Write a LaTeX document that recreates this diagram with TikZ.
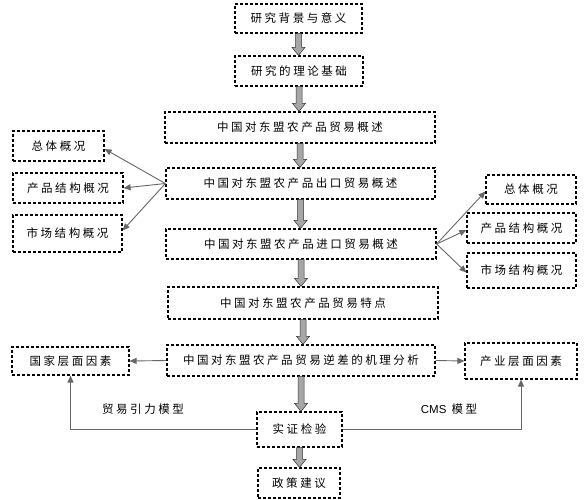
\documentclass[tikz,border=0pt]{standalone}
\usepackage{fontspec}
\setmainfont{Noto Sans CJK SC}[LetterSpace=22]
\newfontfamily\plainlat{Liberation Sans}
\usetikzlibrary{arrows.meta,calc}
\tikzset{
  box/.style={draw=black, dash pattern=on 3pt off 2pt, line width=1.2pt, inner sep=0pt,
    font=\fontsize{11.5}{13}\selectfont, align=center},
  conn/.style={draw=black!60, line width=0.9pt, -{Triangle[length=7pt,width=6pt]}},
  blk/.style={fill=black!35, draw=black!80, line width=0.5pt},
  lbl/.style={font=\fontsize{11.5}{13}\selectfont, inner sep=0pt}
}
\newcommand{\blkarrow}[2]{%
  \filldraw[blk] let \p1=(#1.south), \p2=(#2.north) in
    (\x1-3pt,\y1) -- (\x1+3pt,\y1) -- (\x1+3pt,\y2+8pt) -- (\x1+6.5pt,\y2+8pt)
    -- (\x1,\y2) -- (\x1-6.5pt,\y2+8pt) -- (\x1-3pt,\y2+8pt) -- cycle;}
\begin{document}
\begin{tikzpicture}[x=1pt,y=-1pt]
\useasboundingbox (0,0) rectangle (586,499);
% main column
\node[box, minimum width=127pt, minimum height=29pt] (b1) at (298.5,18.5) {研究背景与意义};
\node[box, minimum width=128pt, minimum height=30pt] (b2) at (299,71) {研究的理论基础};
\node[box, minimum width=270pt, minimum height=31pt] (b3) at (300,127.5) {中国对东盟农产品贸易概述};
\node[box, minimum width=269pt, minimum height=31pt] (b4) at (300.5,183.5) {中国对东盟农产品出口贸易概述};
\node[box, minimum width=270pt, minimum height=30pt] (b5) at (301,244) {中国对东盟农产品进口贸易概述};
\node[box, minimum width=270pt, minimum height=32pt] (b6) at (303,303) {中国对东盟农产品贸易特点};
\node[box, minimum width=268pt, minimum height=31pt] (b7) at (301,360.5) {中国对东盟农产品贸易逆差的机理分析};
\node[box, minimum width=85pt, minimum height=35pt] (b8) at (299.5,429.5) {实证检验};
\node[box, minimum width=82pt, minimum height=30pt] (b9) at (299,483) {政策建议};
% left group
\node[box, minimum width=91pt, minimum height=30pt] (l1) at (58.5,146) {总体概况};
\node[box, minimum width=110pt, minimum height=30pt] (l2) at (68,188) {产品结构概况};
\node[box, minimum width=109pt, minimum height=37pt] (l3) at (67.5,233.5) {市场结构概况};
% right group
\node[box, minimum width=90pt, minimum height=29pt] (r1) at (531,189.5) {总体概况};
\node[box, minimum width=109pt, minimum height=30pt] (r2) at (521.5,228) {产品结构概况};
\node[box, minimum width=109pt, minimum height=35pt] (r3) at (521.5,270.5) {市场结构概况};
% factor boxes
\node[box, minimum width=117pt, minimum height=28pt] (g) at (70.5,361) {国家层面因素};
\node[box, minimum width=112pt, minimum height=36pt] (ind) at (521,361) {产业层面因素};
% labels
\node[lbl] (t1) at (143,409) {贸易引力模型};
\node[lbl] (t2) at (449,409) {{\plainlat CMS} 模型};
% block arrows
\blkarrow{b1}{b2}
\blkarrow{b2}{b3}
\blkarrow{b3}{b4}
\blkarrow{b4}{b5}
\blkarrow{b5}{b6}
\blkarrow{b6}{b7}
\blkarrow{b7}{b8}
\blkarrow{b8}{b9}
% fans
\draw[conn] (b4.west) -- ([yshift=-3pt]l1.east);
\draw[conn] (b4.west) -- (l2.east);
\draw[conn] (b4.west) -- ([yshift=3pt]l3.east);
\draw[conn] (b5.east) -- ([yshift=-2pt]r1.west);
\draw[conn] (b5.east) -- ([yshift=-2pt]r2.west);
\draw[conn] (b5.east) -- ([yshift=-2pt]r3.west);
% mechanism
\draw[conn] (b7.west) -- (g.east);
\draw[conn] (b7.east) -- (ind.west);
\draw[conn] (b8.west) -| (g.south);
\draw[conn] (b8.east) -| (ind.south);
\end{tikzpicture}
\end{document}
